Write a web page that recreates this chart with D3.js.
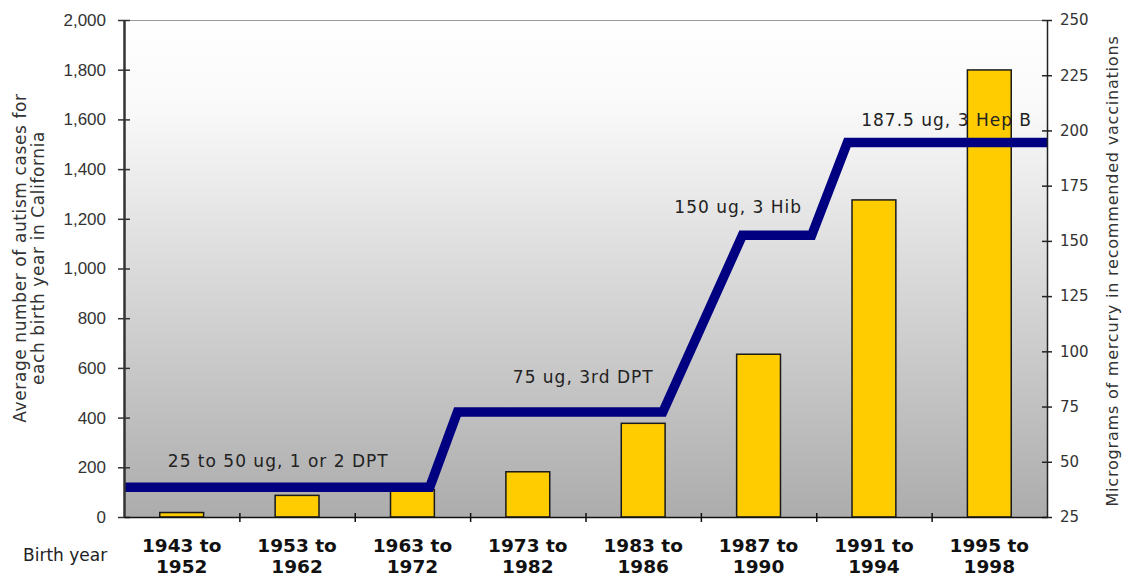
<!DOCTYPE html>
<html>
<head>
<meta charset="utf-8">
<script src="https://cdn.jsdelivr.net/npm/d3@7"></script>
<style>
  html, body { margin: 0; padding: 0; background: #fff; }
  svg { display: block; }
</style>
</head>
<body>
<svg id="chart" width="1129" height="577"></svg>
<script>
"use strict";

// Données
var categories = [
  ["1943 to", "1952"], ["1953 to", "1962"], ["1963 to", "1972"], ["1973 to", "1982"],
  ["1983 to", "1986"], ["1987 to", "1990"], ["1991 to", "1994"], ["1995 to", "1998"]
];
var autismCases = [18, 87, 110, 182, 377, 655, 1276, 1799];

// Ligne du mercure : position en unités de catégorie et valeur en microgrammes
var mercuryPos = [0, 2.65, 2.89, 4.67, 5.36, 5.96, 6.27, 8];
var mercuryValues = [38.5, 38.5, 72.5, 72.5, 152.5, 152.5, 194.5, 194.5];

var leftTicks = [0, 200, 400, 600, 800, 1000, 1200, 1400, 1600, 1800, 2000];
var rightTicks = [25, 50, 75, 100, 125, 150, 175, 200, 225, 250];

var annotations = [
  { text: "25 to 50 ug, 1 or 2 DPT", pos: 0.38, value: 47.5 },
  { text: "75 ug, 3rd DPT", pos: 3.37, value: 85.5 },
  { text: "150 ug, 3 Hib", pos: 4.77, value: 162.5 },
  { text: "187.5 ug, 3 Hep B", pos: 6.39, value: 202 }
];

var margin = { left: 124, right: 1047, top: 20, bottom: 517 };
var svg = d3.select("#chart");

var xBand = d3.scaleBand()
  .domain(d3.range(categories.length))
  .range([margin.left, margin.right])
  .paddingInner(0.62)
  .paddingOuter(0.31);

var xPos = d3.scaleLinear().domain([0, categories.length]).range([margin.left, margin.right]);
var yLeft = d3.scaleLinear().domain([0, 2000]).range([margin.bottom, margin.top]);
var yRight = d3.scaleLinear().domain([25, 250]).range([margin.bottom, margin.top]);

// Fond dégradé
var defs = svg.append("defs");
var grad = defs.append("linearGradient")
  .attr("id", "bg")
  .attr("x1", 0).attr("y1", 0).attr("x2", 0).attr("y2", 1);
grad.append("stop").attr("offset", "0%").attr("stop-color", "#ffffff");
grad.append("stop").attr("offset", "18%").attr("stop-color", "#f9f9f9");
grad.append("stop").attr("offset", "55%").attr("stop-color", "#d6d6d6");
grad.append("stop").attr("offset", "100%").attr("stop-color", "#acacac");

svg.append("rect")
  .attr("x", margin.left)
  .attr("y", margin.top)
  .attr("width", margin.right - margin.left)
  .attr("height", margin.bottom - margin.top)
  .attr("fill", "url(#bg)");

svg.append("line")
  .attr("x1", margin.left).attr("x2", margin.right)
  .attr("y1", margin.top + 0.5).attr("y2", margin.top + 0.5)
  .attr("stroke", "#9a9a9a")
  .attr("stroke-width", 1);

// Barres
svg.append("g")
  .selectAll("rect")
  .data(autismCases)
  .enter()
  .append("rect")
  .attr("x", function (d, i) { return xBand(i); })
  .attr("width", xBand.bandwidth())
  .attr("y", function (d) { return yLeft(d); })
  .attr("height", function (d) { return yLeft(0) - yLeft(d); })
  .attr("fill", "#ffcc00")
  .attr("stroke", "#1a1a1a")
  .attr("stroke-width", 1.5);

// Ligne du mercure
var line = d3.line()
  .x(function (d, i) { return xPos(mercuryPos[i]); })
  .y(function (d) { return yRight(d); });

svg.append("path")
  .datum(mercuryValues)
  .attr("d", line)
  .attr("fill", "none")
  .attr("stroke", "#000080")
  .attr("stroke-width", 9.5)
  .attr("stroke-linejoin", "miter");

// Annotations
svg.append("g")
  .selectAll("text")
  .data(annotations)
  .enter()
  .append("text")
  .attr("x", function (d) { return xPos(d.pos); })
  .attr("y", function (d) { return yRight(d.value); })
  .attr("font-family", "'DejaVu Sans', sans-serif")
  .attr("font-size", "17px")
  .attr("letter-spacing", "1px")
  .attr("fill", "#222")
  .text(function (d) { return d.text; });

// Axe gauche
var axisL = svg.append("g")
  .attr("transform", "translate(" + margin.left + ",0)")
  .call(d3.axisLeft(yLeft).tickValues(leftTicks).tickSizeInner(6).tickSizeOuter(0).tickPadding(12)
    .tickFormat(d3.format(",")));
axisL.select(".domain").attr("stroke", "#333").attr("stroke-width", 2.5);
axisL.selectAll(".tick line").attr("x1", 6).attr("stroke", "#333").attr("stroke-width", 1.5);
axisL.selectAll(".tick text")
  .attr("font-family", "'Liberation Sans', Arial, sans-serif")
  .attr("font-size", "17px")
  .attr("fill", "#333");

// Axe droit
var axisR = svg.append("g")
  .attr("transform", "translate(" + margin.right + ",0)")
  .call(d3.axisRight(yRight).tickValues(rightTicks).tickSizeInner(5).tickSizeOuter(0).tickPadding(8));
axisR.select(".domain").attr("stroke", "#222").attr("stroke-width", 1.5);
axisR.selectAll(".tick line").attr("x1", -5).attr("stroke", "#222").attr("stroke-width", 1.5);
axisR.selectAll(".tick text")
  .attr("font-family", "'DejaVu Sans', sans-serif")
  .attr("font-size", "15px")
  .attr("fill", "#333");

// Axe du bas : graduations entre les catégories
var axisB = svg.append("g")
  .attr("transform", "translate(0," + margin.bottom + ")")
  .call(d3.axisBottom(xPos).tickValues(d3.range(1, categories.length)).tickSizeInner(5).tickSizeOuter(0)
    .tickFormat(""));
axisB.select(".domain").attr("stroke", "#111").attr("stroke-width", 1.5);
axisB.selectAll(".tick line").attr("y1", -4).attr("stroke", "#111").attr("stroke-width", 1.5);

// Étiquettes des catégories
var catLabels = svg.append("g")
  .selectAll("text")
  .data(categories)
  .enter()
  .append("text")
  .attr("text-anchor", "middle")
  .attr("font-family", "'DejaVu Sans', sans-serif")
  .attr("font-weight", "bold")
  .attr("font-size", "18.5px")
  .attr("fill", "#111");

catLabels.append("tspan")
  .attr("x", function (d, i) { return xBand(i) + xBand.bandwidth() / 2; })
  .attr("y", 551.5)
  .text(function (d) { return d[0]; });
catLabels.append("tspan")
  .attr("x", function (d, i) { return xBand(i) + xBand.bandwidth() / 2; })
  .attr("y", 572.5)
  .text(function (d) { return d[1]; });

svg.append("text")
  .attr("x", 23)
  .attr("y", 561)
  .attr("font-family", "'DejaVu Sans', sans-serif")
  .attr("font-size", "17px")
  .attr("fill", "#222")
  .text("Birth year");

// Titres des axes
var titleL = svg.append("text")
  .attr("transform", "translate(20,258) rotate(-90)")
  .attr("text-anchor", "middle")
  .attr("font-family", "'DejaVu Sans', sans-serif")
  .attr("font-size", "17px")
  .attr("letter-spacing", "0.6px")
  .attr("fill", "#333");
titleL.append("tspan").attr("x", 0).attr("y", 6).text("Average number of autism cases for");
titleL.append("tspan").attr("x", 0).attr("y", 24).text("each birth year in California");

svg.append("text")
  .attr("transform", "translate(1113,271) rotate(-90)")
  .attr("text-anchor", "middle")
  .attr("y", 5)
  .attr("font-family", "'DejaVu Sans', sans-serif")
  .attr("font-size", "16px")
  .attr("letter-spacing", "0.8px")
  .attr("fill", "#333")
  .text("Micrograms of mercury in recommended vaccinations");
</script>
</body>
</html>
